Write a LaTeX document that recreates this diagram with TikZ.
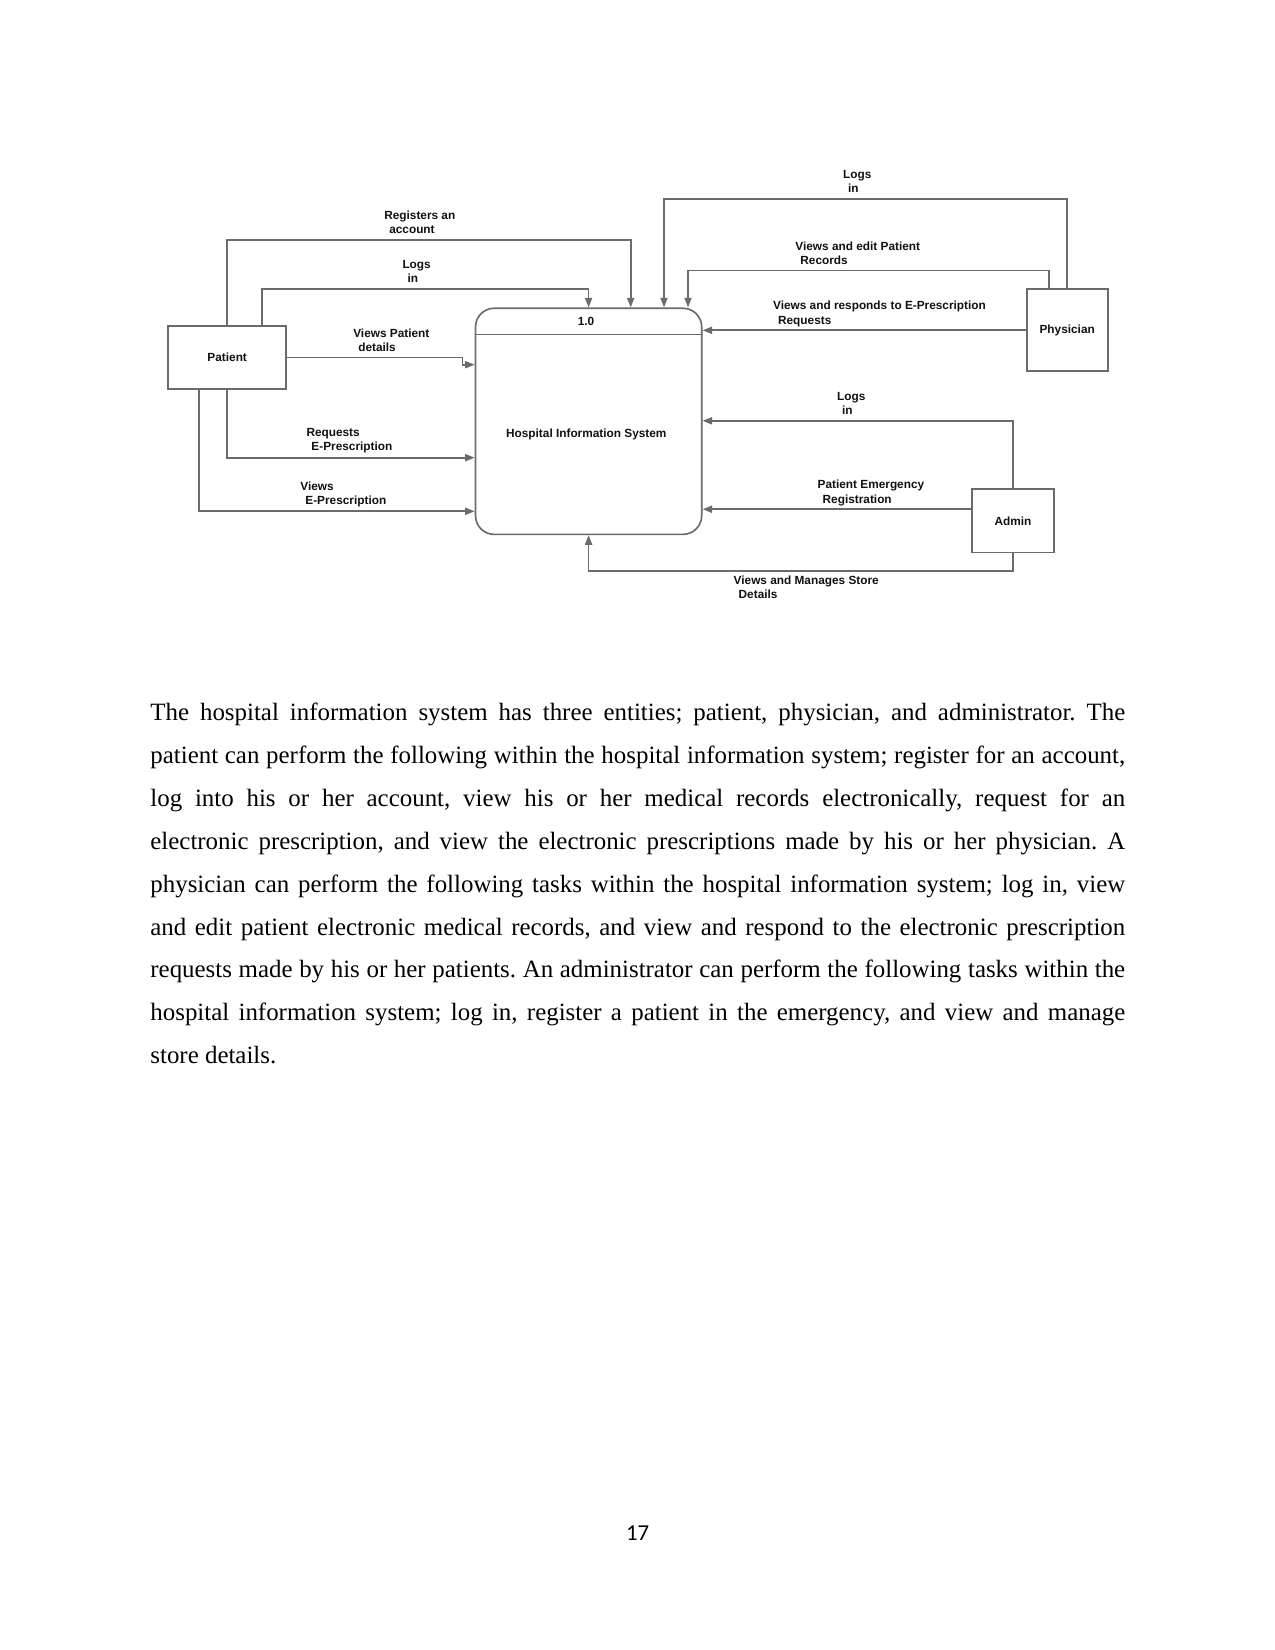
\documentclass[tikz,border=0pt]{standalone}
\usepackage{fontspec}
\usetikzlibrary{positioning,calc,arrows.meta}
\newfontfamily\dfdfont{Liberation Sans}
\newfontfamily\bodyfont{Liberation Serif}
\newfontfamily\pagefont{Carlito}
\definecolor{hisLine}{HTML}{6B6B6B}
\definecolor{hisText}{HTML}{111111}
\newcommand\lblind{\hspace*{2.4pt}}

\begin{document}
\begin{tikzpicture}[x=0.016933cm, y=-0.016933cm,
  entity/.style={draw=hisLine, line width=0.8pt, inner sep=0pt,
    font=\dfdfont\bfseries\fontsize{5.7}{6.95}\selectfont, text=hisText},
  process/.style={draw=hisLine, line width=0.8pt, rounded corners=9pt,
    minimum width=3.83cm, minimum height=3.83cm, inner sep=0pt},
  proclabel/.style={anchor=base, inner sep=0pt, text=hisText,
    font=\dfdfont\bfseries\fontsize{5.7}{6.95}\selectfont},
  flow/.style={draw=hisLine, line width=0.8pt,
    -{Triangle[length=4.6pt,width=3.4pt]}},
  % base of a two-line label is its last line: shift one line down
  flowlabel/.style={anchor=base west, align=left, inner sep=0pt, text=hisText,
    yshift=-6.95pt, font=\dfdfont\bfseries\fontsize{5.7}{6.95}\selectfont}
]
\useasboundingbox (0,0) rectangle (1275,1650);

% --- PARAMETERS ---
\def\divY{334.5}        % divider in the process box
\def\bodyX{150}         % left margin of the text
\def\bodyY{720.7}       % first baseline of the text

% --- ENTITIES AND PROCESS ---
\node[process] (proc) at (588.6,421.3) {};
\node[entity, minimum width=2.0cm, minimum height=1.069cm]
  (patient) at (227.2,357.6) {Patient};
\node[entity, minimum width=1.372cm, minimum height=1.389cm]
  (phys) at (1067.2,330.3) {Physician};
\node[entity, minimum width=1.389cm, minimum height=1.068cm]
  (admin) at (1013,520.8) {Admin};

\coordinate (divY) at (0,\divY);
\draw[hisLine, line width=0.8pt] (proc.west |- divY) -- (proc.east |- divY);
\node[proclabel] (procid) at (586,325) {1.0};
\node[proclabel] (procname) at (586.3,437.7) {Hospital Information System};

% --- PATIENT FLOWS ---
\coordinate (regC) at (630.7,240);
\draw[flow] (patient.north) |- (regC) -- (regC |- proc.north);
\node[flowlabel] (regL) at (383.9,219) {Registers an\\\lblind account};

\coordinate (plogC) at (261.8,289.3);
\draw[flow] (plogC |- patient.north) -- (plogC) -| (proc.north);
\node[flowlabel] (plogL) at (402.1,268.3) {Logs\\\lblind in};

\coordinate (vpdA) at (462.5,357.6);
\coordinate (vpdB) at (462.5,364.7);
\draw[flow] (patient.east) -- (vpdA) -- (vpdB) -- (vpdB -| proc.west);
\node[flowlabel] (vpdL) at (352.9,337) {Views Patient\\\lblind details};

\coordinate (reqY) at (0,457.7);
\draw[flow] (patient.south) |- (reqY -| proc.west);
\node[flowlabel] (reqL) at (306.1,436) {Requests\\\lblind E-Prescription};

\coordinate (vepC) at (199,511.3);
\draw[flow] (vepC |- patient.south) |- (vepC -| proc.west);
\node[flowlabel] (vepL) at (300,490.3) {Views\\\lblind E-Prescription};

% --- PHYSICIAN FLOWS ---
\coordinate (phlogC) at (664,199);
\draw[flow] (phys.north) |- (phlogC) -- (phlogC |- proc.north);
\node[flowlabel] (phlogL) at (842.7,178.3) {Logs\\\lblind in};

\coordinate (editR) at (1049,270.5);
\coordinate (editC) at (688,270.5);
\draw[flow] (editR |- phys.north) -- (editR) -- (editC) -- (editC |- proc.north);
\node[flowlabel] (editL) at (795,250) {Views and edit Patient\\\lblind Records};

\draw[flow] (phys.west) -- (phys.west -| proc.east);
\node[flowlabel] (respL) at (772.7,309.7)
  {Views and responds to E-Prescription\\\lblind Requests};

% --- ADMIN FLOWS ---
\coordinate (alogY) at (0,420.8);
\draw[flow] (admin.north) |- (alogY -| proc.east);
\node[flowlabel] (alogL) at (836.7,400) {Logs\\\lblind in};

\coordinate (emerY) at (0,509.2);
\draw[flow] (emerY -| admin.west) -- (emerY -| proc.east);
\node[flowlabel] (emerL) at (817.3,488.7) {Patient Emergency\\\lblind Registration};

\coordinate (storeY) at (0,571.2);
\draw[flow] (admin.south) |- (storeY -| proc.south) -- (proc.south);
\node[flowlabel] (storeL) at (733.3,584.3) {Views and Manages Store\\\lblind Details};

% --- BODY TEXT ---
\node[anchor=base west, inner sep=0pt, text width=6.5in, align=justify,
  font=\bodyfont\fontsize{12}{20.66}\selectfont\frenchspacing] (body) at (\bodyX,\bodyY)
  {The hospital information system has three entities; patient, physician, and administrator. The\linebreak
  patient can perform the following within the hospital information system; register for an account,\linebreak
  log into his or her account, view his or her medical records electronically, request for an\linebreak
  electronic prescription, and view the electronic prescriptions made by his or her physician. A\linebreak
  physician can perform the following tasks within the hospital information system; log in, view\linebreak
  and edit patient electronic medical records, and view and respond to the electronic prescription\linebreak
  requests made by his or her patients. An administrator can perform the following tasks within the\linebreak
  hospital information system; log in, register a patient in the emergency, and view and manage\linebreak
  store details.};

% --- PAGE NUMBER ---
\node[anchor=base, inner sep=0pt, font=\pagefont\fontsize{11}{13}\selectfont]
  (pageno) at (637.6,1540) {17};

\end{tikzpicture}
\end{document}
